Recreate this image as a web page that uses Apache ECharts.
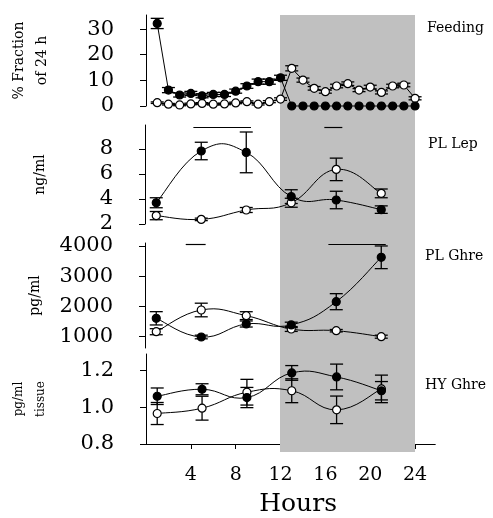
<!DOCTYPE html>
<html>
<head>
<meta charset="utf-8">
<script src="https://cdn.jsdelivr.net/npm/echarts@6/dist/echarts.min.js"></script>
<style>
  html, body { margin: 0; padding: 0; background: #fff; }
  #chart { width: 493px; height: 518px; }
</style>
</head>
<body>
<div id="chart"></div>
<script>
// Dark phase of the light/dark cycle (hours)
const darkPhase = [12, 24];

// Feeding: hourly % of 24 h intake
const feedHours = [1,2,3,4,5,6,7,8,9,10,11,12,13,14,15,16,17,18,19,20,21,22,23,24];
const feedRestricted    = [32.2,6.2,4.3,4.9,4.0,4.5,4.5,5.8,7.8,9.5,9.5,11.0,0,0,0,0,0,0,0,0,0,0,0,0];
const feedRestrictedErr = [2.0,1.0,0.8,0.8,0.8,0.8,0.8,0.8,0.9,1.0,1.0,1.0,0,0,0,0,0,0,0,0,0,0,0,0];
const feedAdLib    = [1.3,0.7,0.4,0.8,1.0,0.7,0.8,1.2,1.7,0.7,1.7,2.7,14.7,10.1,6.9,5.6,7.8,8.7,6.2,7.4,5.3,7.8,8.2,3.0];
const feedAdLibErr = [0.3,0.3,0.3,0.3,0.3,0.3,0.3,0.3,0.3,0.3,0.4,0.5,1.0,0.8,0.7,0.6,0.7,0.7,0.6,0.7,0.6,0.7,0.7,0.6];

// Sampling times for plasma / hypothalamic measures
const sampleHours = [1, 5, 9, 13, 17, 21];

// Plasma leptin (ng/ml)
const lepRestricted    = [3.70, 7.84, 7.73, 4.19, 3.92, 3.15];
const lepRestrictedErr = [0.40, 0.70, 1.63, 0.55, 0.70, 0.30];
const lepAdLib    = [2.67, 2.37, 3.12, 3.70, 6.37, 4.45];
const lepAdLibErr = [0.33, 0.10, 0.20, 0.36, 0.90, 0.35];
const lepSigBars = [[4.3, 9.42], [15.94, 17.54]];
const lepSigLevel = 9.76;

// Plasma ghrelin (pg/ml)
const ghreRestricted    = [1608, 990, 1420, 1390, 2158, 3626];
const ghreRestrictedErr = [220, 60, 100, 90, 265, 375];
const ghreAdLib    = [1165, 1883, 1696, 1254, 1198, 1000];
const ghreAdLibErr = [100, 225, 130, 80, 40, 50];
const ghreSigBars = [[3.62, 5.39], [16.3, 21.4]];
const ghreSigLevel = 4066;

// Hypothalamic ghrelin (pg/ml tissue)
const hyRestricted    = [1.06, 1.098, 1.053, 1.187, 1.165, 1.09];
const hyRestrictedErr = [0.045, 0.03, 0.055, 0.04, 0.07, 0.05];
const hyAdLib    = [0.966, 0.995, 1.082, 1.09, 0.986, 1.10];
const hyAdLibErr = [0.06, 0.065, 0.07, 0.065, 0.075, 0.075];

// Axis ticks
const xTicks = [4, 8, 12, 16, 20, 24];
const feedTicks = [0, 10, 20, 30];
const lepTicks = [2, 4, 6, 8];
const ghreTicks = [1000, 2000, 3000, 4000];
const hyTicks = [0.8, 1.0, 1.2];

const FONT = 'DejaVu Serif';
const INK = '#000';

const zip = (xs, ys, es) => xs.map((x, i) => es ? [x, ys[i], es[i]] : [x, ys[i]]);

function errorBars(idx, xs, ys, es) {
  return {
    type: 'custom',
    xAxisIndex: idx, yAxisIndex: idx,
    z: 3,
    silent: true,
    data: zip(xs, ys, es),
    encode: { x: 0, y: 1 },
    renderItem: function (params, api) {
      const x = api.value(0), y = api.value(1), e = api.value(2);
      if (!e) return null;
      const hi = api.coord([x, y + e]);
      const lo = api.coord([x, y - e]);
      const w = 6.5;
      const style = { stroke: INK, lineWidth: 1.3 };
      return {
        type: 'group',
        children: [
          { type: 'line', shape: { x1: hi[0], y1: hi[1], x2: lo[0], y2: lo[1] }, style: style },
          { type: 'line', shape: { x1: hi[0] - w, y1: hi[1], x2: hi[0] + w, y2: hi[1] }, style: style },
          { type: 'line', shape: { x1: lo[0] - w, y1: lo[1], x2: lo[0] + w, y2: lo[1] }, style: style }
        ]
      };
    }
  };
}

// Cardinal-spline connector through the measured points (one bezier per gap)
function splineCurve(idx, xs, ys) {
  const n = xs.length;
  const k = 0.22;
  return {
    type: 'custom',
    xAxisIndex: idx, yAxisIndex: idx,
    z: 4,
    silent: true,
    data: zip(xs, ys),
    encode: { x: 0, y: 1 },
    renderItem: function (params, api) {
      const i = params.dataIndex;
      if (i >= n - 1) return null;
      const pt = j => {
        const c = Math.max(0, Math.min(n - 1, j));
        return api.coord([xs[c], ys[c]]);
      };
      const p0 = pt(i - 1), p1 = pt(i), p2 = pt(i + 1), p3 = pt(i + 2);
      return {
        type: 'bezierCurve',
        shape: {
          x1: p1[0], y1: p1[1], x2: p2[0], y2: p2[1],
          cpx1: p1[0] + (p2[0] - p0[0]) * k, cpy1: p1[1] + (p2[1] - p0[1]) * k,
          cpx2: p2[0] - (p3[0] - p1[0]) * k, cpy2: p2[1] - (p3[1] - p1[1]) * k
        },
        style: { stroke: INK, fill: null, lineWidth: 1 }
      };
    }
  };
}

function markerSeries(idx, xs, ys, filled, showLine, extra) {
  return Object.assign({
    type: 'line',
    xAxisIndex: idx, yAxisIndex: idx,
    z: 5,
    data: zip(xs, ys),
    symbol: 'circle',
    symbolSize: 8,
    showAllSymbol: true,
    clip: false,
    lineStyle: { color: INK, width: 1, opacity: showLine ? 1 : 0 },
    itemStyle: { color: filled ? INK : '#fff', borderColor: INK, borderWidth: 1.2 },
    emphasis: { disabled: true }
  }, extra || {});
}

function sigMarks(bars, level) {
  return {
    silent: true,
    symbol: ['none', 'none'],
    label: { show: false },
    lineStyle: { color: INK, width: 1.2, type: 'solid', opacity: 1 },
    data: bars.map(b => [{ coord: [b[0], level] }, { coord: [b[1], level] }])
  };
}

const gridLeft = 145, gridWidth = 290.25;
const grids = [
  { left: gridLeft, width: gridWidth, top: 15, height: 437 },  // shading
  { left: gridLeft, width: gridWidth, top: 15, height: 91 },   // feeding
  { left: gridLeft, width: gridWidth, top: 125, height: 99 },  // leptin
  { left: gridLeft, width: gridWidth, top: 243, height: 105 }, // plasma ghrelin
  { left: gridLeft, width: gridWidth, top: 354, height: 98 }   // hypothalamic ghrelin
];

const xAxes = grids.map((g, i) => {
  const bottom = i === 4;
  return {
    type: 'value', gridIndex: i, min: 0, max: 25.8,
    show: bottom,
    axisLine: { show: bottom, lineStyle: { color: INK, width: 1 } },
    axisTick: { show: bottom, length: 5, customValues: xTicks, lineStyle: { color: INK } },
    axisLabel: { show: bottom, customValues: xTicks, margin: 22, fontFamily: FONT, fontSize: 19, color: INK },
    splitLine: { show: false },
    name: bottom ? 'Hours' : '',
    nameLocation: 'middle',
    nameGap: 48,
    nameTextStyle: { fontFamily: FONT, fontSize: 25, color: INK, padding: [0, 0, 0, 15] }
  };
});

function yAxis(idx, min, max, ticks, name, nameGap, nameSize, nameLH, fmt) {
  return {
    type: 'value', gridIndex: idx, min: min, max: max, offset: 12,
    axisLine: { show: true, lineStyle: { color: INK, width: 1 } },
    axisTick: { show: true, length: 6, customValues: ticks, lineStyle: { color: INK } },
    axisLabel: { customValues: ticks, margin: 20, fontFamily: FONT, fontSize: 21, color: INK,
                 formatter: fmt || (v => String(v)) },
    splitLine: { show: false },
    name: name,
    nameLocation: 'middle',
    nameRotate: 90,
    nameGap: nameGap,
    nameTextStyle: { fontFamily: FONT, fontSize: nameSize, lineHeight: nameLH, color: INK, align: 'center' }
  };
}

const yAxes = [
  { type: 'value', gridIndex: 0, min: 0, max: 1, show: false, splitLine: { show: false } },
  yAxis(1, 0, 35.5, feedTicks, '% Fraction\nof 24 h', 80, 14, 23),
  yAxis(2, 2, 9.92, lepTicks, 'ng/ml', 85, 14, 16),
  yAxis(3, 626, 4099, ghreTicks, 'pg/ml', 90, 14, 16),
  yAxis(4, 0.8, 1.29, hyTicks, 'pg/ml\ntissue', 82, 12, 22, v => v.toFixed(1))
];

const panelLabel = (text, left, top) => ({
  text: text, left: left, top: top, padding: 0,
  textStyle: { fontFamily: FONT, fontSize: 14, fontWeight: 'normal', color: INK }
});

const option = {
  animation: false,
  backgroundColor: '#fff',
  title: [
    panelLabel('Feeding', 427, 21),
    panelLabel('PL Lep', 428, 137),
    panelLabel('PL Ghre', 425, 249),
    panelLabel('HY Ghre', 425, 378)
  ],
  grid: grids,
  xAxis: xAxes,
  yAxis: yAxes,
  series: [
    {
      type: 'line', xAxisIndex: 0, yAxisIndex: 0, data: [], z: 0, silent: true,
      markArea: {
        silent: true,
        itemStyle: { color: '#c0c0c0' },
        data: [[{ xAxis: darkPhase[0] }, { xAxis: darkPhase[1] }]]
      }
    },
    // Feeding (straight connectors)
    errorBars(1, feedHours, feedRestricted, feedRestrictedErr),
    errorBars(1, feedHours, feedAdLib, feedAdLibErr),
    markerSeries(1, feedHours, feedAdLib, false, true),
    markerSeries(1, feedHours, feedRestricted, true, true),
    // Plasma leptin
    errorBars(2, sampleHours, lepRestricted, lepRestrictedErr),
    errorBars(2, sampleHours, lepAdLib, lepAdLibErr),
    splineCurve(2, sampleHours, lepAdLib),
    splineCurve(2, sampleHours, lepRestricted),
    markerSeries(2, sampleHours, lepAdLib, false, false, { markLine: sigMarks(lepSigBars, lepSigLevel) }),
    markerSeries(2, sampleHours, lepRestricted, true, false),
    // Plasma ghrelin
    errorBars(3, sampleHours, ghreRestricted, ghreRestrictedErr),
    errorBars(3, sampleHours, ghreAdLib, ghreAdLibErr),
    splineCurve(3, sampleHours, ghreAdLib),
    splineCurve(3, sampleHours, ghreRestricted),
    markerSeries(3, sampleHours, ghreAdLib, false, false, { markLine: sigMarks(ghreSigBars, ghreSigLevel) }),
    markerSeries(3, sampleHours, ghreRestricted, true, false),
    // Hypothalamic ghrelin
    errorBars(4, sampleHours, hyRestricted, hyRestrictedErr),
    errorBars(4, sampleHours, hyAdLib, hyAdLibErr),
    splineCurve(4, sampleHours, hyAdLib),
    splineCurve(4, sampleHours, hyRestricted),
    markerSeries(4, sampleHours, hyAdLib, false, false),
    markerSeries(4, sampleHours, hyRestricted, true, false)
  ]
};

const chart = echarts.init(document.getElementById('chart'), null, { renderer: 'canvas' });
chart.setOption(option);
</script>
</body>
</html>
